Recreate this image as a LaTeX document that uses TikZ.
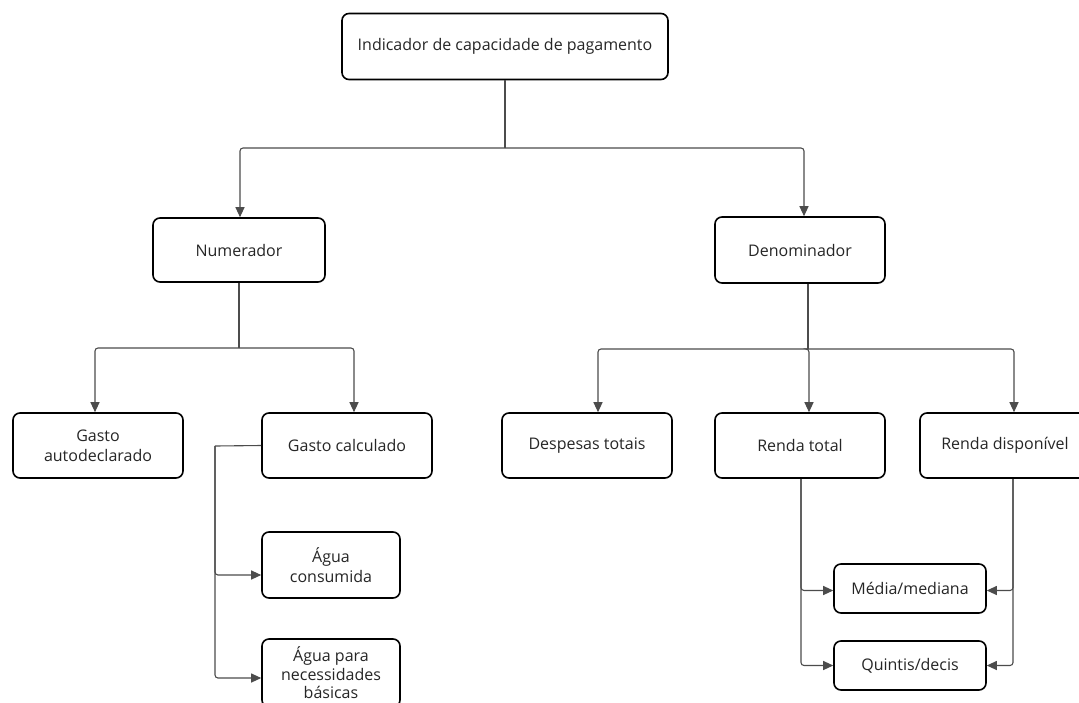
\documentclass[tikz,border=0pt]{standalone}
\usepackage{fontspec}
\setmainfont{Open Sans}
\usetikzlibrary{arrows.meta}
\begin{document}
\begin{tikzpicture}[x=1pt,y=-1pt,
  box/.style={draw=black,line width=1.6pt,rounded corners=7pt,fill=white,align=center,font=\fontsize{16}{20}\selectfont,inner sep=2pt,text=black!85},
  conn/.style={draw=black!70,line width=1.1pt,rounded corners=3pt,-{Triangle[length=10pt,width=9pt]}},
  plain/.style={draw=black!70,line width=1.1pt,rounded corners=3pt}]
\useasboundingbox (0,0) rectangle (1079,702);
\fill[white] (0,0) rectangle (1079,702);
% nodes
\node[box,minimum width=326pt,minimum height=66pt] (top) at (505,46.5) {Indicador de capacidade de pagamento};
\node[box,minimum width=172pt,minimum height=64pt] (num) at (239,250) {Numerador};
\node[box,minimum width=170pt,minimum height=66pt] (den) at (800,250) {Denominador};
\node[box,minimum width=170pt,minimum height=65pt] (ga) at (98,445.5) {Gasto\\autodeclarado};
\node[box,minimum width=170pt,minimum height=65pt] (gc) at (347,445.5) {Gasto calculado};
\node[box,minimum width=170pt,minimum height=65pt] (dt) at (587,445.5) {Despesas totais};
\node[box,minimum width=170pt,minimum height=65pt] (rt) at (800,445.5) {Renda total};
\node[box,minimum width=170pt,minimum height=65pt] (rd) at (1005,445.5) {Renda disponível};
\node[box,minimum width=138pt,minimum height=66pt] (ac) at (331,565) {Água\\consumida};
\node[box,minimum width=138pt,minimum height=68pt,font=\fontsize{16}{18.5}\selectfont] (ap) at (331,673) {Água para\\necessidades\\básicas};
\node[box,minimum width=152pt,minimum height=49pt] (med) at (910,588.5) {Média/mediana};
\node[box,minimum width=152pt,minimum height=49pt] (qd) at (910,665.5) {Quintis/decis};
% junctions
\coordinate (j1) at (505,148);
\coordinate (j2) at (239,348);
\coordinate (j3) at (808,349);
\coordinate (j4) at (215,446);
\coordinate (rts) at (801,479);
\coordinate (rds) at (1013,479);
% connectors
\draw[plain] (top.south) -- (j1);
\draw[conn] (j1) -| ([xshift=1pt]num.north);
\draw[conn] (j1) -| ([xshift=4pt]den.north);
\draw[plain] (num.south) -- (j2);
\draw[conn] (j2) -| ([xshift=-3pt]ga.north);
\draw[conn] (j2) -| ([xshift=7pt]gc.north);
\draw[plain] ([xshift=8pt]den.south) -- (j3);
\draw[conn] (j3) -| ([xshift=11pt]dt.north);
\draw[conn] (j3) -| ([xshift=9pt]rt.north);
\draw[conn] (j3) -| ([xshift=9pt]rd.north);
\draw[plain] (gc.west) -- (j4);
\draw[conn] (j4) |- ([yshift=-10pt]ac.west);
\draw[conn] (j4) |- ([yshift=-5pt]ap.west);
\draw[conn] (rts) |- ([yshift=-2pt]med.west);
\draw[conn] (rts) |- (qd.west);
\draw[conn] (rds) |- ([yshift=-2pt]med.east);
\draw[conn] (rds) |- (qd.east);
\end{tikzpicture}
\end{document}
